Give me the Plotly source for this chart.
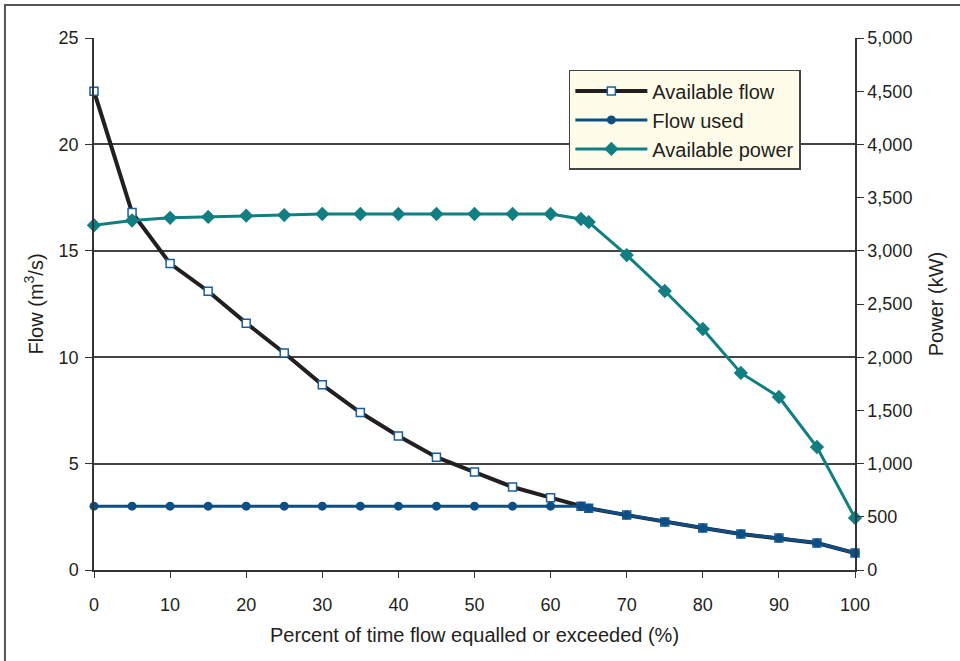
import plotly.graph_objects as go

# percent of time flow equalled or exceeded
pct = [0, 5, 10, 15, 20, 25, 30, 35, 40, 45, 50, 55, 60, 64, 65, 70, 75, 80, 85, 90, 95, 100]

available_flow = [22.5, 16.8, 14.4, 13.1, 11.6, 10.2, 8.7, 7.4, 6.3, 5.3, 4.6, 3.9, 3.4,
                  3.0, 2.9, 2.58, 2.26, 1.97, 1.69, 1.5, 1.27, 0.8]
flow_used = [3.0, 3.0, 3.0, 3.0, 3.0, 3.0, 3.0, 3.0, 3.0, 3.0, 3.0, 3.0, 3.0,
             3.0, 2.9, 2.58, 2.26, 1.97, 1.69, 1.5, 1.27, 0.8]
available_power = [3240, 3285, 3310, 3318, 3330, 3336, 3346, 3346, 3346, 3346, 3346, 3346, 3346,
                   3299, 3270, 2960, 2622, 2265, 1852, 1626, 1156, 489]

x_ticks = list(range(0, 101, 10))
flow_ticks = [0, 5, 10, 15, 20, 25]
power_ticks = list(range(0, 5001, 500))

fnt = "Liberation Sans, Arial, sans-serif"

fig = go.Figure()
fig.add_trace(go.Scatter(
    x=pct, y=available_flow, name="Available flow", mode="lines+markers",
    line=dict(color="#231f20", width=4),
    marker=dict(symbol="square", size=8, color="white", line=dict(color="#1a5f99", width=1.5)),
    cliponaxis=False))
fig.add_trace(go.Scatter(
    x=pct, y=flow_used, name="Flow used", mode="lines+markers",
    line=dict(color="#0d4f85", width=3),
    marker=dict(symbol="circle", size=9, color="#0d4f85"),
    cliponaxis=False))
fig.add_trace(go.Scatter(
    x=pct, y=available_power, name="Available power", mode="lines+markers", yaxis="y2",
    line=dict(color="#117f82", width=3),
    marker=dict(symbol="diamond", size=11, color="#117f82"),
    cliponaxis=False))

# outer frame
fig.add_shape(type="rect", xref="paper", yref="paper",
              x0=-0.117, x1=1.2, y0=-0.3, y1=1.062,
              line=dict(color="#555555", width=2), layer="below")

fig.update_layout(
    width=960, height=661,
    margin=dict(l=94, r=105, t=38, b=91),
    plot_bgcolor="white", paper_bgcolor="white",
    font=dict(family=fnt, size=17, color="#231f20"),
    showlegend=True,
    legend=dict(x=0.624, y=0.94, xanchor="left", yanchor="top",
                bgcolor="#fffdea", bordercolor="#444444", borderwidth=1.5,
                font=dict(size=20), tracegroupgap=0, itemwidth=72),
    xaxis=dict(range=[0, 100], tickvals=x_ticks, showgrid=False, zeroline=False,
               showline=True, linecolor="#333333", linewidth=1.5,
               ticks="outside", ticklen=6, tickcolor="#333333", tickfont=dict(size=18),
               ticklabelstandoff=12,
               title=dict(text="Percent of time flow equalled or exceeded (%)", standoff=14)),
    yaxis=dict(range=[0, 25], tickvals=flow_ticks, showgrid=True, gridcolor="#444444",
               gridwidth=1.5, zeroline=False, showline=True, linecolor="#333333", linewidth=1.5,
               ticks="outside", ticklen=7, tickcolor="#333333", tickfont=dict(size=18),
               ticklabelstandoff=3,
               title=dict(text="Flow (m<sup>3</sup>/s)", standoff=10)),
    yaxis2=dict(range=[0, 5000], tickvals=power_ticks, tickformat=",d", overlaying="y",
                side="right", showgrid=False, zeroline=False, showline=True,
                linecolor="#333333", linewidth=1.5, ticks="outside", ticklen=7,
                tickcolor="#333333", tickfont=dict(size=18),
                title=dict(text="Power (kW)", standoff=18)),
)

fig.write_html("out.html", config={"displayModeBar": False},
               post_script="document.body.style.margin='0';")
